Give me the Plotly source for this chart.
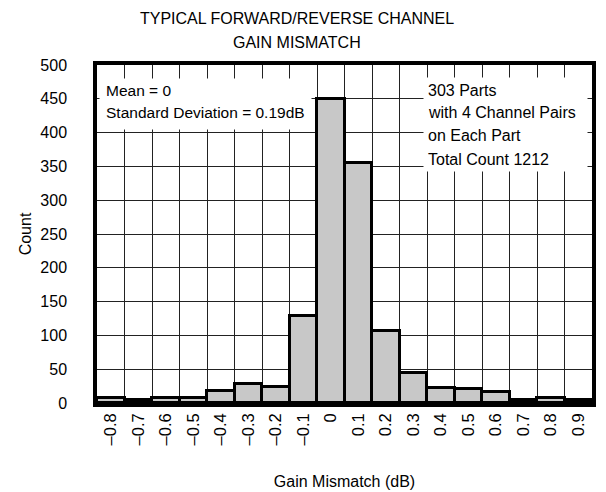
import plotly.graph_objects as go

# Histogram of gain mismatch (dB) -> count
bins = ["–0.8", "–0.7", "–0.6", "–0.5", "–0.4", "–0.3", "–0.2", "–0.1", "0",
        "0.1", "0.2", "0.3", "0.4", "0.5", "0.6", "0.7", "0.8", "0.9"]
counts = [8, 5, 8, 7, 18, 28, 24, 129, 450, 355, 106, 44, 22, 20, 16, 5, 7, 5]

y_ticks = list(range(0, 501, 50))

title_lines = ["TYPICAL FORWARD/REVERSE CHANNEL", "GAIN MISMATCH"]
left_note = ["Mean = 0", "Standard Deviation = 0.19dB"]
right_note = ["303 Parts", "with 4 Channel Pairs", "on Each Part", "Total Count 1212"]

FONT = "Liberation Sans, Arial, sans-serif"

# plot area on screen (page has an 8px body margin): x 97..592, y 65..403
def py(pix):
    return (403 - pix) / 338

def px_(pix):
    return (pix - 97) / 495

fig = go.Figure(go.Bar(
    x=bins,
    y=counts,
    marker=dict(color="#c8c8c8", line=dict(color="black", width=3)),
    showlegend=False,
))

# white boxes behind the notes
fig.add_annotation(xref="paper", yref="paper", x=px_(99), y=py(78), xanchor="left", yanchor="top",
                   text=" ", showarrow=False, bgcolor="white", width=211, height=50, borderpad=0)
fig.add_annotation(xref="paper", yref="paper", x=px_(423), y=py(77), xanchor="left", yanchor="top",
                   text=" ", showarrow=False, bgcolor="white", width=163, height=93, borderpad=0)

for i, line in enumerate(left_note):
    fig.add_annotation(xref="paper", yref="paper", x=px_(104), y=py(90 + 23 * i),
                       xanchor="left", yanchor="middle", text=line, showarrow=False,
                       font=dict(size=15.5, color="black", family=FONT))
for i, line in enumerate(right_note):
    fig.add_annotation(xref="paper", yref="paper", x=px_(426), y=py(90 + 23 * i),
                       xanchor="left", yanchor="middle", text=line, showarrow=False,
                       font=dict(size=16, color="black", family=FONT))
for i, line in enumerate(title_lines):
    fig.add_annotation(xref="paper", yref="paper", x=px_(297), y=py(19 + 23 * i),
                       xanchor="center", yanchor="middle", text=line, showarrow=False,
                       font=dict(size=16, color="black", family=FONT))

fig.update_layout(
    width=598, height=484,
    margin=dict(l=89, r=14, t=57, b=89),
    paper_bgcolor="white", plot_bgcolor="white",
    font=dict(family=FONT, size=16, color="black"),
    bargap=0,
)

fig.update_xaxes(
    type="category", tickson="boundaries", tickangle=-90, automargin=False,
    showgrid=True, gridcolor="#222", gridwidth=1,
    showline=True, linecolor="black", linewidth=3.5, mirror=True,
    ticks="", tickfont=dict(size=16.5),
    title=dict(text="Gain Mismatch (dB)", standoff=32, font=dict(size=16)),
)
fig.update_yaxes(
    range=[0, 500], tickvals=y_ticks, automargin=False,
    showgrid=True, gridcolor="#222", gridwidth=1,
    showline=True, linecolor="black", linewidth=3.5, mirror=True,
    ticks="", tickfont=dict(size=16), zeroline=False, ticklabelstandoff=23,
    title=dict(text="Count", standoff=6, font=dict(size=16)),
)

fig.write_html("out.html")
